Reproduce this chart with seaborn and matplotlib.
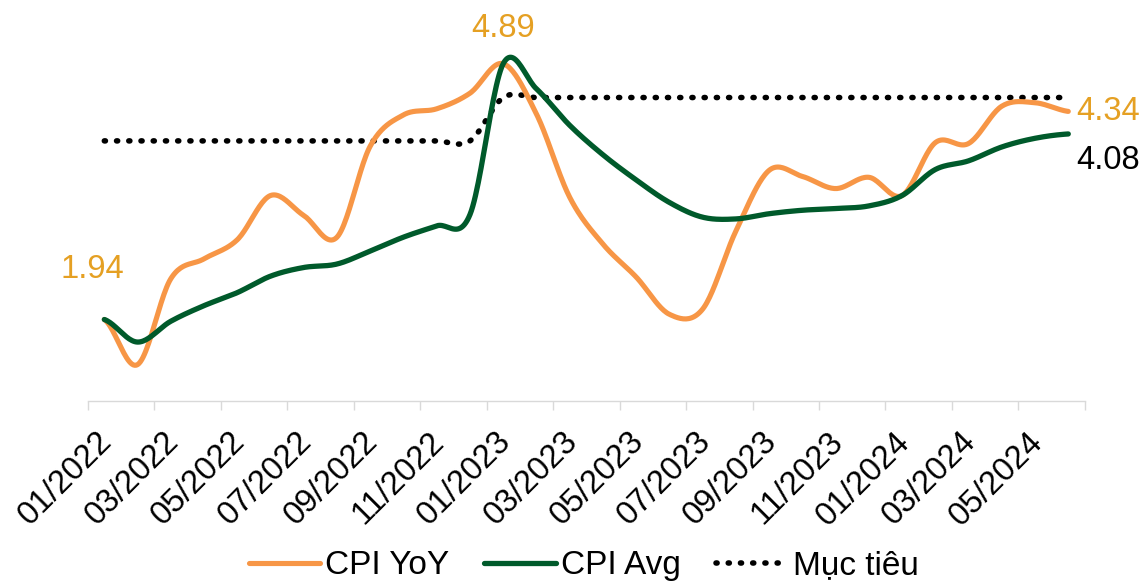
import numpy as np
import pandas as pd
import matplotlib
matplotlib.use("Agg")
import matplotlib.pyplot as plt
import seaborn as sns
from matplotlib.transforms import ScaledTranslation

# ---------------- data ----------------
months = ["01/2022", "02/2022", "03/2022", "04/2022", "05/2022", "06/2022",
          "07/2022", "08/2022", "09/2022", "10/2022", "11/2022", "12/2022",
          "01/2023", "02/2023", "03/2023", "04/2023", "05/2023", "06/2023",
          "07/2023", "08/2023", "09/2023", "10/2023", "11/2023", "12/2023",
          "01/2024", "02/2024", "03/2024", "04/2024", "05/2024", "06/2024"]
cpi_yoy = [1.94, 1.42, 2.41, 2.64, 2.86, 3.37, 3.14, 2.89, 3.94, 4.30, 4.37, 4.55,
           4.89, 4.31, 3.35, 2.81, 2.43, 2.00, 2.06, 2.96, 3.66, 3.59, 3.45, 3.58,
           3.37, 3.98, 3.97, 4.40, 4.44, 4.34]
cpi_avg = [1.94, 1.68, 1.92, 2.10, 2.25, 2.44, 2.54, 2.58, 2.73, 2.89, 3.02, 3.15,
           4.89, 4.60, 4.18, 3.84, 3.55, 3.29, 3.12, 3.10, 3.16, 3.20, 3.22, 3.25,
           3.37, 3.67, 3.77, 3.93, 4.03, 4.08]
target = [4.0] * 12 + [4.5] * 18
series_names = ["CPI YoY", "CPI Avg", "Mục tiêu"]

# ---------------- style ----------------
sns.set_theme(style="white")
plt.rcParams["font.family"] = ["Liberation Sans", "DejaVu Sans"]
plt.rcParams["text.color"] = "black"

C_YOY = "#F79646"
C_AVG = "#005A2B"
C_LBL = "#E5A023"
FS = 23.5
DOTS = (0, (0.2, 2.0))


def smooth(vals, n=24):
    """Excel-like smoothed line (Catmull-Rom) through the category points."""
    p = np.asarray(vals, dtype=float)
    x = np.arange(len(p), dtype=float)
    pp = np.concatenate([[p[0]], p, [p[-1]]])
    xs, ys = [], []
    for i in range(len(p) - 1):
        p0, p1, p2, p3 = pp[i], pp[i + 1], pp[i + 2], pp[i + 3]
        t = np.linspace(0, 1, n, endpoint=False)
        m1 = (p2 - p0) / 2.0
        m2 = (p3 - p1) / 2.0
        h00 = 2 * t**3 - 3 * t**2 + 1
        h10 = t**3 - 2 * t**2 + t
        h01 = -2 * t**3 + 3 * t**2
        h11 = t**3 - t**2
        ys.append(h00 * p1 + h10 * m1 + h01 * p2 + h11 * m2)
        xs.append(x[i] + t)
    xs.append([x[-1]])
    ys.append([p[-1]])
    return np.concatenate(xs), np.concatenate(ys)


fig = plt.figure(figsize=(11.42, 5.85), dpi=100)
ax = fig.add_axes([0.0768, 0.3145, 0.8732, 0.667])

specs = [
    (target, series_names[2], "black", 4.0, 3),
    (cpi_yoy, series_names[0], C_YOY, 3.7, 3.5),
    (cpi_avg, series_names[1], C_AVG, 3.8, 4),
]
for vals, name, color, lw, z in specs:
    sx, sy = smooth(vals)
    df = pd.DataFrame({"x": sx, "y": sy})
    sns.lineplot(data=df, x="x", y="y", ax=ax, color=color, label=name,
                 sort=False, estimator=None)
    ln = ax.get_lines()[-1]
    ln.set_linewidth(lw)
    ln.set_zorder(z)
    if name == series_names[2]:
        ln.set_linestyle(DOTS)
        ln.set_dash_capstyle("round")
    else:
        ln.set_solid_capstyle("round")

ax.set_xlim(-0.5, len(months) - 0.5)
ax.set_ylim(1.0, 5.5)
ax.set_xlabel("")
ax.set_ylabel("")
ax.set_yticks([])

for s in ["left", "top", "right"]:
    ax.spines[s].set_visible(False)
ax.spines["bottom"].set_color("#D9D9D9")
ax.spines["bottom"].set_linewidth(1.0)

# major ticks at category boundaries (marks only), minor ticks for labels
ax.set_xticks(np.arange(-0.5, len(months), 2))
ax.set_xticklabels([])
ax.set_xticks(np.arange(0, len(months), 2), minor=True)
ax.set_xticklabels(months[::2], minor=True)
ax.tick_params(axis="x", which="major", length=6.5, width=1.0, color="#D9D9D9",
               direction="out", bottom=True)
ax.tick_params(axis="x", which="minor", length=0, pad=18, labelsize=FS,
               labelcolor="black", bottom=True)
off = ScaledTranslation(-8 / 100, 0, fig.dpi_scale_trans)
for lbl in ax.get_xticklabels(minor=True):
    lbl.set_rotation(45)
    lbl.set_rotation_mode("anchor")
    lbl.set_ha("right")
    lbl.set_va("top")
    lbl.set_transform(lbl.get_transform() + off)

# data labels
last = len(months) - 1
peak = int(np.argmax(cpi_yoy))
ax.annotate(f"{cpi_yoy[0]:.2f}", (0, cpi_yoy[0]), xytext=(-8.6, 36),
            textcoords="offset points", ha="center", va="center",
            fontsize=FS, color=C_LBL)
ax.annotate(f"{cpi_yoy[peak]:.2f}", (peak, cpi_yoy[peak]), xytext=(0, 25),
            textcoords="offset points", ha="center", va="center",
            fontsize=FS, color=C_LBL)
ax.annotate(f"{cpi_yoy[last]:.2f}", (last, cpi_yoy[last]), xytext=(5.8, 0),
            textcoords="offset points", ha="left", va="center",
            fontsize=FS, color=C_LBL, annotation_clip=False)
ax.annotate(f"{cpi_avg[last]:.2f}", (last, cpi_avg[last]), xytext=(5.8, -19.4),
            textcoords="offset points", ha="left", va="center",
            fontsize=FS, color="black", annotation_clip=False)

# legend
handles, labels = ax.get_legend_handles_labels()
order = [labels.index(n) for n in series_names]
leg = ax.legend([handles[i] for i in order], [labels[i] for i in order],
                loc="center", bbox_to_anchor=(0.511, 0.033),
                bbox_transform=fig.transFigure, ncol=3, frameon=False,
                fontsize=24, handlelength=2.15, handletextpad=0.15,
                columnspacing=1.05, borderpad=0, borderaxespad=0,
                labelcolor="black")
for h in leg.get_lines():
    if h.get_linestyle() != "-":
        h.set_linewidth(4.0)
        h.set_linestyle(DOTS)
        h.set_dash_capstyle("round")

fig.savefig("out.png", dpi=100)
